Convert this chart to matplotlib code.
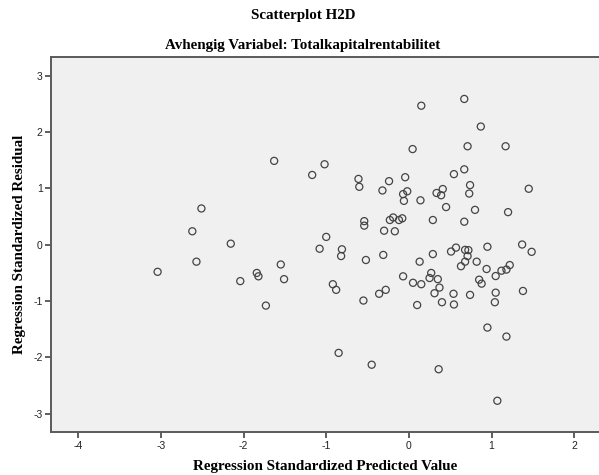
import numpy as np
import matplotlib
matplotlib.use("Agg")
import matplotlib.pyplot as plt

# standardiserte predikerte verdier (x) og residualer (y), lest av figuren
pred = np.array([
    -3.04, -2.62, -2.57, -2.51, -2.155, -2.04, -1.84, -1.82, -1.73, -1.63,
    -1.55, -1.51, -1.17, -1.08, -1.02, -1.00, -0.92, -0.88, -0.85, -0.82,
    -0.81, -0.61, -0.60, -0.55, -0.54, -0.54, -0.52, -0.45, -0.36, -0.32,
    -0.31, -0.30, -0.28, -0.24, -0.23, -0.19, -0.17, -0.12, -0.08, -0.07,
    -0.06, -0.07, -0.045, -0.02, 0.045, 0.05, 0.10, 0.13, 0.14, 0.15,
    0.15, 0.25, 0.27, 0.29, 0.29, 0.31, 0.335, 0.35, 0.36, 0.37,
    0.39, 0.40, 0.41, 0.45, 0.51, 0.545, 0.54, 0.545, 0.57, 0.63,
    0.67, 0.67, 0.67, 0.68, 0.68, 0.71, 0.71, 0.72, 0.73, 0.74,
    0.74, 0.80, 0.82, 0.85, 0.87, 0.88, 0.94, 0.95, 0.95, 1.04,
    1.05, 1.05, 1.07, 1.12, 1.17, 1.18, 1.18, 1.20, 1.22, 1.37,
    1.38, 1.45, 1.485,
])
resid = np.array([
    -0.48, 0.24, -0.30, 0.645, 0.02, -0.645, -0.50, -0.56, -1.08, 1.49,
    -0.35, -0.61, 1.24, -0.07, 1.43, 0.14, -0.70, -0.80, -1.92, -0.20,
    -0.08, 1.17, 1.03, -0.99, 0.42, 0.34, -0.27, -2.13, -0.87, 0.965,
    -0.18, 0.25, -0.80, 1.13, 0.44, 0.485, 0.24, 0.44, 0.47, -0.56,
    0.78, 0.90, 1.20, 0.95, 1.70, -0.675, -1.07, -0.30, 0.79, 2.47,
    -0.70, -0.59, -0.50, 0.44, -0.165, -0.86, 0.92, -0.61, -2.21, -0.76,
    0.88, -1.02, 0.99, 0.67, -0.12, 1.255, -0.87, -1.06, -0.05, -0.38,
    2.59, 1.34, 0.41, -0.09, -0.30, 1.75, -0.20, -0.095, 0.91, 1.06,
    -0.89, 0.62, -0.30, -0.62, 2.10, -0.69, -0.43, -0.035, -1.47, -1.02,
    -0.555, -0.85, -2.77, -0.46, 1.75, -0.44, -1.63, 0.58, -0.36, 0.005,
    -0.82, 0.995, -0.125,
])

x_ticks = [-4, -3, -2, -1, 0, 1, 2]
y_ticks = [-3, -2, -1, 0, 1, 2, 3]

serif = ["Liberation Serif", "DejaVu Serif"]

fig = plt.figure(figsize=(5.99, 4.75), dpi=100)
ax = fig.add_axes([0.0851, 0.0899, 0.9149, 0.7895])
ax.set_facecolor("#f0f0f0")

ax.scatter(pred, resid, s=26, facecolors="none", edgecolors="#444444", linewidths=0.9, zorder=3)

ax.set_xlim(-4.33, 2.30)
ax.set_ylim(-3.33, 3.33)
ax.set_xticks(x_ticks)
ax.set_yticks(y_ticks)
ax.set_xticklabels([str(t) for t in x_ticks])
ax.set_yticklabels([str(t) for t in y_ticks])

for side in ["left", "bottom", "top"]:
    ax.spines[side].set_color("#5a5a5a")
    ax.spines[side].set_linewidth(1.4)
ax.spines["right"].set_visible(False)

ax.tick_params(direction="out", length=4.5, width=1.1, color="#333333", pad=1.5,
               labelsize=7.5, labelcolor="#222222")
for lab in ax.get_xticklabels() + ax.get_yticklabels():
    lab.set_family(["Liberation Sans", "DejaVu Sans"])

ax.set_xlabel("Regression Standardized Predicted Value", family=serif,
              fontweight="bold", fontsize=10.8, labelpad=7)
ax.set_ylabel("Regression Standardized Residual", family=serif,
              fontweight="bold", fontsize=10.8, labelpad=5)

fig.text(0.506, 1 - 16 / 475, "Scatterplot H2D", family=serif, fontweight="bold",
         fontsize=10.8, ha="center", va="center")
fig.text(0.506, 1 - 45 / 475, "Avhengig Variabel: Totalkapitalrentabilitet", family=serif,
         fontweight="bold", fontsize=10.8, ha="center", va="center")

fig.savefig("out.png", dpi=100)
